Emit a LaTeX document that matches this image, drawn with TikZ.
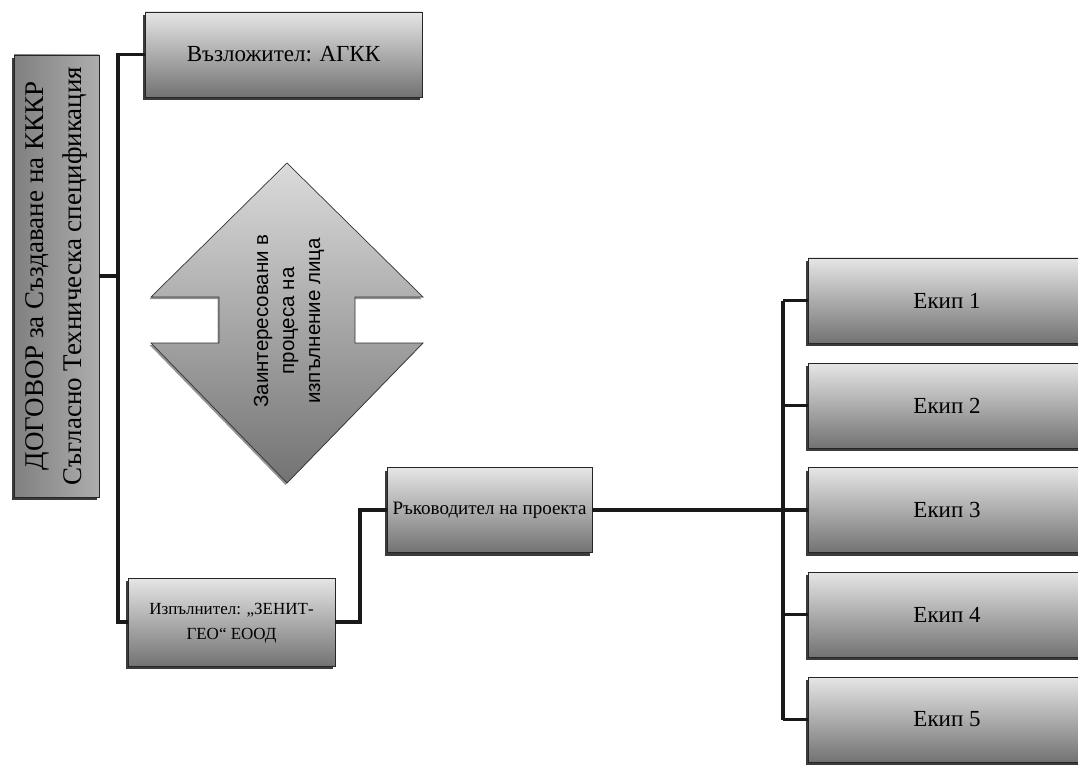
\documentclass[tikz,border=0pt]{standalone}
\usepackage{fontspec}
\setmainfont{Liberation Serif}
\newfontfamily\arialfont{Liberation Sans}
\usetikzlibrary{shadows}
\begin{document}
\begin{tikzpicture}[x=1pt,y=-1pt,
  conn/.style={line width=3.6pt, draw=black!90},
  boxnode/.style={draw=black!85, line width=0.8pt, rectangle,
    top color=black!10, bottom color=black!55,
    drop shadow={shadow xshift=-2.5pt, shadow yshift=-3pt, fill=black!85, opacity=0.9},
    align=center, inner sep=2pt},
  txtnode/.style={inner sep=0pt, align=center},
]
\clip (0,0) rectangle (1078,767);
\fill[white] (0,0) rectangle (1078,767);

% left contract box
\node[boxnode, left color=black!50, right color=black!32,
      minimum width=85pt, minimum height=442pt] (dog) at (56.5,276) {};
\node[txtnode, rotate=90, font=\fontsize{27}{38}\selectfont] (dogtxt) at (dog.center)
  {ДОГОВОР за Създаване на КККР\\Съгласно Техническа спецификация};

% AGKK
\node[boxnode, minimum width=277pt, minimum height=85pt,
      font=\fontsize{23}{27}\selectfont] (agkk) at (283.5,54.5) {Възложител: АГКК};

% double arrow
\path[draw=black!80, line width=0.7pt, top color=black!14, bottom color=black!55,
      drop shadow={shadow xshift=-1.5pt, shadow yshift=-2pt, fill=black!70, opacity=0.6}]
  (287,163) -- (423,297) -- (355,297) -- (355,343) -- (423,343) -- (287,483)
  -- (151,343) -- (219,343) -- (219,297) -- (151,297) -- cycle;
\node[txtnode, rotate=90, font=\arialfont\fontsize{20.5}{26}\selectfont] (arrtxt) at (289,321)
  {Заинтересовани в\\процеса на\\изпълнение лица};

% executor
\node[boxnode, minimum width=207pt, minimum height=88pt,
      font=\fontsize{17}{25}\selectfont] (izp) at (231.5,622) {\raisebox{-4pt}{\begin{tabular}{@{}c@{}}Изпълнител: „ЗЕНИТ-\\ГЕО“ ЕООД\end{tabular}}};

% project manager
\node[boxnode, minimum width=205pt, minimum height=85pt,
      font=\fontsize{19}{23}\selectfont] (ruk) at (489.5,510) {Ръководител на проекта};

% teams
\foreach \i/\y in {1/300.5,2/405.5,3/510,4/614.5,5/719.5}
  \node[boxnode, minimum width=278pt, minimum height=85pt,
        font=\fontsize{23}{27}\selectfont] (e\i) at (947,\y) {Екип \i};

% connectors
\coordinate (busA) at (118,0);
\coordinate (busB) at (360,0);
\coordinate (busC) at (783,0);
\draw[conn] (agkk.west) -- (agkk.west -| busA) -- (izp.west -| busA) -- (izp.west);
\draw[conn] (dog.east) -- (dog.east -| busA);
\draw[conn] (izp.east) -- (izp.east -| busB) -- (ruk.west -| busB) -- (ruk.west);
\draw[conn] (ruk.east) -- (ruk.east -| busC);
\draw[conn] (e1.west -| busC) -- (e5.west -| busC);
\foreach \i in {1,...,5} \draw[conn] (e\i.west -| busC) -- (e\i.west);
\end{tikzpicture}
\end{document}
